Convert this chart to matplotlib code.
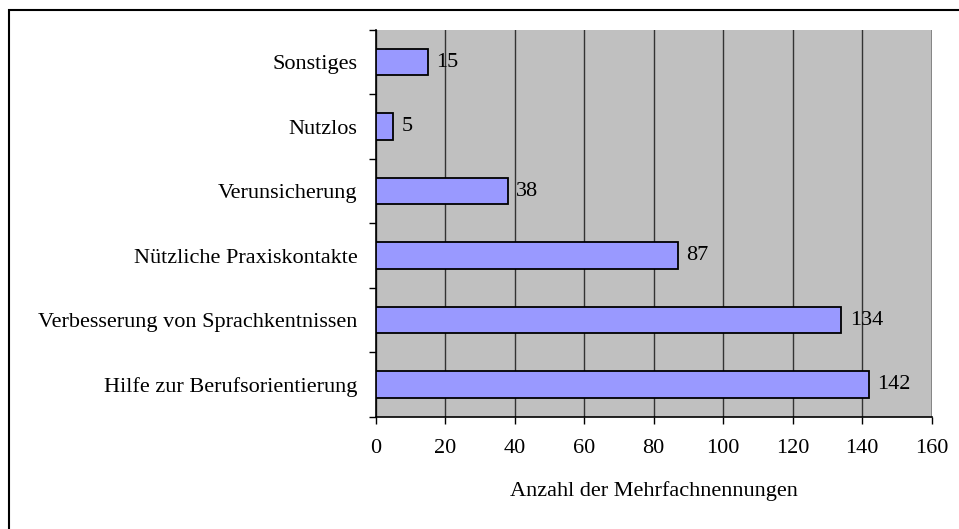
import matplotlib
matplotlib.use('Agg')
import matplotlib.pyplot as plt
from matplotlib.patches import Rectangle

categories = ['Hilfe zur Berufsorientierung', 'Verbesserung von Sprachkentnissen',
              'Nützliche Praxiskontakte', 'Verunsicherung', 'Nutzlos', 'Sonstiges']
values = [142, 134, 87, 38, 5, 15]
xticks = [0, 20, 40, 60, 80, 100, 120, 140, 160]

plt.rcParams['font.family'] = ['Liberation Serif', 'DejaVu Serif']
FS = 16

fig = plt.figure(figsize=(9.59, 5.29), dpi=100, facecolor='white')
# outer frame (only left/top visible in the reference)
fig.patches.append(Rectangle((9 / 959, -0.1), 1.2, 1 - 10 / 529 + 0.1,
                             transform=fig.transFigure, fill=False,
                             edgecolor='black', lw=1.5))

ax = fig.add_axes([0.3918, 0.2123, 0.5797, 0.7310])
ax.set_facecolor('#C0C0C0')

pos = list(range(len(categories)))
ax.barh(pos, values, height=0.41, color='#9999FF', edgecolor='black', lw=1.3, zorder=3)
for p, v in zip(pos, values):
    ax.annotate(str(v), (v, p), xytext=(6, 0), textcoords='offset points',
                va='center', ha='left', fontsize=FS, color='black', zorder=4)

ax.set_xlim(0, 160)
ax.set_ylim(-0.5, len(categories) - 0.5)
ax.set_xticks(xticks)
ax.set_xticklabels([str(t) for t in xticks])
ax.set_yticks(pos)
ax.set_yticklabels(categories)
ax.set_yticks([p - 0.5 for p in pos] + [len(categories) - 0.5], minor=True)
ax.tick_params(axis='y', which='major', length=0, pad=13, labelsize=FS)
ax.tick_params(axis='y', which='minor', length=5, width=1, direction='out')
ax.tick_params(axis='x', length=5, width=1, direction='out', pad=11, labelsize=FS)

ax.grid(axis='x', color='#333333', lw=1, zorder=1)
for s in ['top', 'right']:
    ax.spines[s].set_visible(False)
ax.spines['left'].set_linewidth(1.2)
ax.spines['bottom'].set_linewidth(1.2)
ax.axvline(160, color='#808080', lw=1.2, zorder=2)

ax.set_xlabel('Anzahl der Mehrfachnennungen', fontsize=FS, labelpad=17)

fig.savefig('out.png', dpi=100, facecolor='white')
